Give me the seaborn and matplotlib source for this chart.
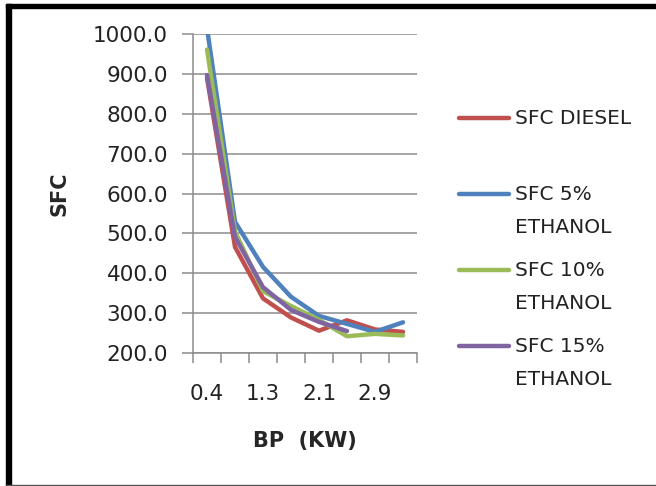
import matplotlib
matplotlib.use("Agg")
import matplotlib.pyplot as plt
import seaborn as sns
import pandas as pd
import numpy as np
from matplotlib.patches import Rectangle

# ---- data ----
bp = ["0.4", "0.9", "1.3", "1.7", "2.1", "2.5", "2.9", "3.3"]
sfc_diesel = [890, 466, 337, 289, 256, 282, 259, 253]
sfc_5 = [1015, 529, 416, 341, 293, 273, 253, 277]
sfc_10 = [961, 505, 355, 318, 283, 242, 248, 244]
sfc_15 = [897, 491, 365, 308, 278, 255, np.nan, np.nan]

series_names = ["SFC DIESEL", "SFC 5%\nETHANOL", "SFC 10%\nETHANOL", "SFC 15%\nETHANOL"]
colors = ["#C0504D", "#4F81BD", "#9BBB59", "#8064A2"]
y_ticks = [200, 300, 400, 500, 600, 700, 800, 900, 1000]

rows = []
for name, vals in zip(series_names, [sfc_diesel, sfc_5, sfc_10, sfc_15]):
    for i, (b, v) in enumerate(zip(bp, vals)):
        rows.append({"idx": i, "BP": b, "SFC": v, "series": name})
df = pd.DataFrame(rows).dropna()

sns.set_style("white")
plt.rcParams["font.family"] = ["DejaVu Sans"]

fig = plt.figure(figsize=(6.56, 4.86), dpi=100)
ax = fig.add_axes([193 / 656, 1 - 353 / 486, (417 - 193) / 656, (353 - 34) / 486])

sns.lineplot(data=df, x="idx", y="SFC", hue="series", hue_order=series_names,
             palette=colors, linewidth=3.2, ax=ax, legend=True, sort=False,
             estimator=None)

ax.set_xlim(-0.5, len(bp) - 0.5)
ax.set_ylim(200, 1000)
ax.set_yticks(y_ticks)
ax.set_yticklabels([f"{v:.1f}" for v in y_ticks], fontsize=15.5)
ax.yaxis.grid(True, color="#8c8c8c", linewidth=1.1)
ax.set_axisbelow(True)

# x: ticks at category boundaries, labels every other category
ax.set_xticks(np.arange(-0.5, len(bp), 1.0))
ax.set_xticklabels([])
ax.set_xticks(np.arange(len(bp))[::2], minor=True)
ax.set_xticklabels(bp[::2], minor=True, fontsize=15.5)
ax.tick_params(axis="x", which="major", direction="out", length=7, width=1.1,
               color="#8c8c8c", bottom=True)
ax.tick_params(axis="x", which="minor", length=0, pad=22, labelcolor="#222222")
ax.tick_params(axis="y", direction="out", length=8, width=1.1, color="#8c8c8c",
               left=True, pad=10, labelcolor="#222222")

for s in ["top", "right"]:
    ax.spines[s].set_visible(False)
for s in ["left", "bottom"]:
    ax.spines[s].set_color("#8c8c8c")
    ax.spines[s].set_linewidth(1.1)

ax.set_xlabel("BP  (KW)", fontsize=15, fontweight="bold", labelpad=20)
ax.set_ylabel("SFC", fontsize=15, fontweight="bold", labelpad=17)

# legend
handles, labels = ax.get_legend_handles_labels()
labels = ["SFC DIESEL\n "] + labels[1:]
fs = 14.5
ls = 1.9
leg = ax.legend(handles, labels, loc="upper left", bbox_to_anchor=(451 / 656, 1 - 101 / 486),
                bbox_transform=fig.transFigure, frameon=False, fontsize=fs,
                handlelength=2.5, handletextpad=0.3, labelspacing=1.22,
                borderaxespad=0)
for t in leg.get_texts():
    t.set_linespacing(ls)
    t.set_color("#222222")
shift = fs * ls / 2 * 0.9
for ln in leg.get_lines():
    ln.set_linewidth(3.2)
    yd = np.asarray(ln.get_ydata(), dtype=float)
    ln.set_ydata(yd + shift)

# outer frame
fig.patches.append(Rectangle((6 / 656, 0), 5 / 656, 1 - 4 / 486, transform=fig.transFigure,
                             color="black", zorder=10))
fig.patches.append(Rectangle((6 / 656, 1 - 8 / 486), 1 - 6 / 656, 4 / 486, transform=fig.transFigure,
                             color="black", zorder=10))
fig.patches.append(Rectangle((6 / 656, 0), 1 - 6 / 656, 1.5 / 486, transform=fig.transFigure,
                             color="#555555", zorder=10))

fig.savefig("out.png", dpi=100)
